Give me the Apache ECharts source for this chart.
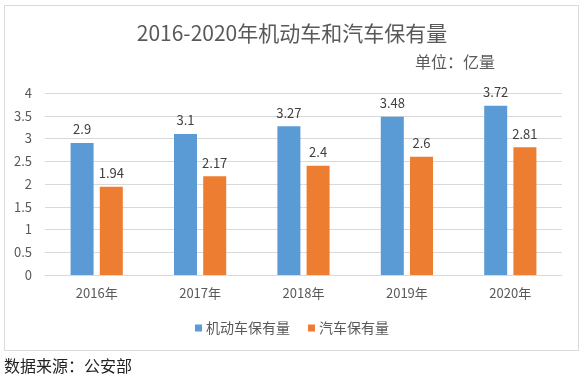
<!DOCTYPE html>
<html>
<head>
<meta charset="utf-8">
<script src="https://cdn.jsdelivr.net/npm/echarts@6/dist/echarts.min.js"></script>
<style>
  html, body { margin: 0; padding: 0; background: #fff; }
  #main { width: 584px; height: 376px; }
</style>
</head>
<body>
<div id="main"></div>
<script>
const years = ['2016年', '2017年', '2018年', '2019年', '2020年']
const motorVehicles = [2.9, 3.1, 3.27, 3.48, 3.72]
const cars = [1.94, 2.17, 2.4, 2.6, 2.81]
const seriesNames = ['机动车保有量', '汽车保有量']

const font = "'Noto Sans CJK SC', 'Noto Sans', sans-serif"

const myChart = echarts.init(document.getElementById('main'))
const option = {
  color: ['#5B9BD5', '#ED7D31'],
  textStyle: { fontFamily: font },
  title: [
    {
      text: '2016-2020年机动车和汽车保有量',
      left: 'center',
      top: 22,
      padding: 0,
      textStyle: { fontSize: 21, fontWeight: 'normal', color: '#595959', lineHeight: 22, fontFamily: font }
    },
    {
      text: '单位：亿量',
      left: 415,
      top: 54,
      padding: 0,
      textStyle: { fontSize: 16, fontWeight: 'normal', color: '#595959', lineHeight: 16, fontFamily: font }
    }
  ],
  legend: {
    data: seriesNames,
    left: 195,
    top: 321,
    padding: 0,
    icon: 'rect',
    itemWidth: 7,
    itemHeight: 7,
    itemGap: 18,
    textStyle: { fontSize: 14, color: '#595959', padding: [0, 0, 0, -1], lineHeight: 14 }
  },
  grid: {
    left: 45,
    right: 22,
    top: 93,
    height: 182
  },
  xAxis: {
    type: 'category',
    data: years,
    axisTick: { show: false },
    axisLine: { lineStyle: { color: '#d9d9d9' } },
    axisLabel: { fontSize: 13, color: '#595959', margin: 12 }
  },
  yAxis: {
    type: 'value',
    min: 0,
    max: 4,
    interval: 0.5,
    axisLine: { show: false },
    axisTick: { show: false },
    axisLabel: { fontSize: 13, color: '#595959', margin: 13 },
    splitLine: { lineStyle: { color: '#d9d9d9' } } // 分割线颜色
  },
  series: [
    {
      name: seriesNames[0],
      type: 'bar',
      data: motorVehicles,
      barWidth: 23,
      barGap: '27%',
      label: { show: true, position: 'top', distance: 7, fontSize: 13, color: '#404040' }
    },
    {
      name: seriesNames[1],
      type: 'bar',
      data: cars,
      barWidth: 23,
      barGap: '27%',
      label: { show: true, position: 'top', distance: 7, fontSize: 13, color: '#404040' }
    }
  ],
  graphic: [
    {
      type: 'rect',
      shape: { x: 4.5, y: 5.5, width: 574, height: 345 },
      style: { fill: 'none', stroke: '#d9d9d9', lineWidth: 1 },
      silent: true
    },
    {
      type: 'text',
      left: 4,
      top: 358,
      style: { text: '数据来源：公安部', fontSize: 16, fill: '#222', fontFamily: font }
    }
  ]
}

option && myChart.setOption(option)
</script>
</body>
</html>
